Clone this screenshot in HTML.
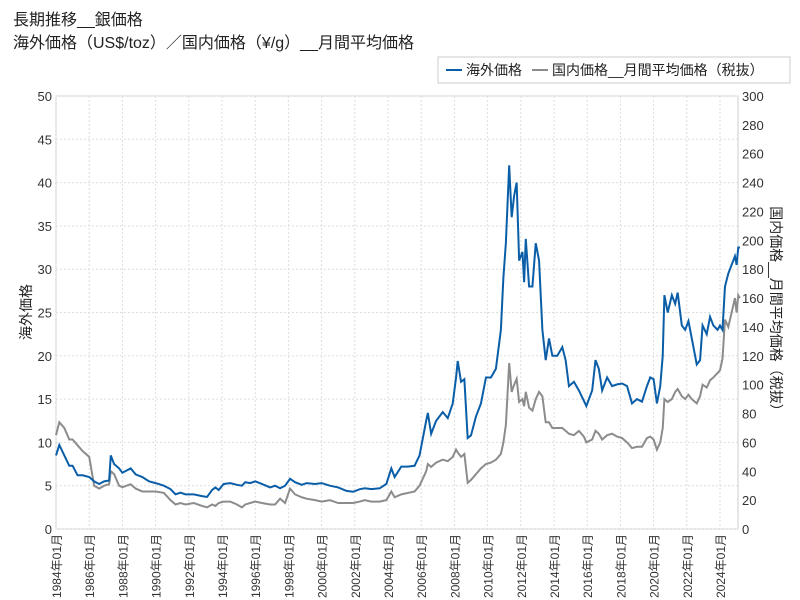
<!DOCTYPE html>
<html><head><meta charset="utf-8"><style>
body{margin:0;background:#fff;font-family:"Liberation Sans","Noto Sans CJK JP",sans-serif;}
#wrap{position:relative;width:800px;height:600px;overflow:hidden}
.t{position:absolute;left:13px;font-size:16px;color:#222}
</style></head><body><div id="wrap">
<div class="t" style="top:6px">長期推移__銀価格</div>
<div class="t" style="top:29px">海外価格（US$/toz）／国内価格（¥/g）__月間平均価格</div>
<svg id="svg" width="800" height="600" style="position:absolute;left:0;top:0"></svg>
</div>
<script>
const years=[1984.0,1984.2,1984.5,1984.8,1985.0,1985.3,1985.6,1986.0,1986.3,1986.6,1986.9,1987.2,1987.3,1987.5,1987.8,1988.0,1988.5,1988.8,1989.2,1989.6,1990.0,1990.5,1990.9,1991.2,1991.5,1991.8,1992.3,1992.8,1993.1,1993.4,1993.6,1993.8,1994.1,1994.5,1994.9,1995.2,1995.4,1995.7,1996.0,1996.4,1996.9,1997.2,1997.5,1997.8,1998.1,1998.4,1998.8,1999.1,1999.6,2000.0,2000.5,2001.0,2001.5,2001.9,2002.3,2002.6,2003.0,2003.5,2003.9,2004.2,2004.4,2004.8,2005.2,2005.6,2005.9,2006.3,2006.4,2006.6,2006.9,2007.3,2007.6,2007.9,2008.1,2008.2,2008.4,2008.6,2008.8,2009.0,2009.3,2009.6,2009.9,2010.2,2010.5,2010.8,2010.95,2011.1,2011.3,2011.45,2011.6,2011.75,2011.9,2012.1,2012.2,2012.3,2012.5,2012.7,2012.9,2013.1,2013.3,2013.5,2013.7,2013.9,2014.2,2014.5,2014.7,2014.9,2015.2,2015.5,2015.8,2015.95,2016.3,2016.5,2016.7,2016.9,2017.2,2017.5,2017.8,2018.1,2018.4,2018.7,2019.0,2019.3,2019.6,2019.8,2020.0,2020.2,2020.4,2020.55,2020.65,2020.85,2021.1,2021.3,2021.45,2021.7,2021.9,2022.1,2022.3,2022.6,2022.8,2022.95,2023.2,2023.4,2023.6,2023.85,2024.0,2024.15,2024.3,2024.5,2024.7,2024.9,2025.0,2025.1,2025.2];
const overseas=[8.5,9.7,8.5,7.3,7.3,6.2,6.2,6.0,5.5,5.2,5.5,5.6,8.5,7.5,7.0,6.5,7.0,6.3,6.0,5.5,5.3,5.0,4.6,4.0,4.2,4.0,4.0,3.8,3.7,4.5,4.8,4.5,5.2,5.3,5.1,5.0,5.4,5.3,5.5,5.2,4.8,5.0,4.7,5.0,5.8,5.4,5.1,5.3,5.2,5.3,5.0,4.8,4.4,4.3,4.6,4.7,4.6,4.7,5.2,7.0,6.0,7.2,7.2,7.3,8.5,12.5,13.4,11.0,12.5,13.5,12.8,14.5,17.5,19.4,17.0,17.3,10.5,10.8,13.0,14.5,17.5,17.5,18.5,23,29,33,42,36,38.5,40,31,32,28.5,33.5,28,28,33,31,23,19.5,22,20,20,21,19.5,16.5,17,16,14.8,14.2,16,19.5,18.5,16,17.5,16.5,16.7,16.8,16.5,14.5,15,14.7,16.5,17.5,17.3,14.5,16.5,20,27,25,27,26,27.3,23.5,23,24,22,19,19.5,23.5,22.5,24.5,23.5,23,23.5,23,28,29.5,30.5,31.5,30.5,32.5,32.5];
const domestic=[65,74,70,62,62,58,54,50,30,28,30,31,40,38,30,29,31,28,26,26,26,25,20,17,18,17,18,16,15,17,16,18,19,19,17,15,17,18,19,18,17,17,21,18,28,24,22,21,20,19,20,18,18,18,19,20,19,19,20,26,22,24,25,26,30,40,45,43,46,48,47,50,55,53,50,52,32,34,38,42,45,46,48,52,60,72,115,95,100,104,88,90,85,95,84,82,90,95,92,74,74,70,70,70,68,66,65,68,64,60,62,68,66,62,65,66,64,63,60,56,57,57,63,64,62,55,60,70,90,88,90,95,97,92,90,93,90,87,92,100,98,103,105,108,110,118,145,140,150,160,150,162,160];
const leftTicks=[0,5,10,15,20,25,30,35,40,45,50];
const rightTicks=[0,20,40,60,80,100,120,140,160,180,200,220,240,260,280,300];
const xTickYears=[1984,1986,1988,1990,1992,1994,1996,1998,2000,2002,2004,2006,2008,2010,2012,2014,2016,2018,2020,2022,2024];
const X0=56,X1=738,Y0=529,Y1=96;
const xs=y=>X0+(y-1984)*16.6;
const yl=v=>Y0-(v/50)*(Y0-Y1);
const yr=v=>Y0-(v/300)*(Y0-Y1);
const svg=document.getElementById('svg');const NS='http://www.w3.org/2000/svg';
function mk(t,a){const e=document.createElementNS(NS,t);for(const k in a)e.setAttribute(k,a[k]);svg.appendChild(e);return e;}
const frame=mk('rect',{x:X0,y:Y1,width:X1-X0,height:Y0-Y1,fill:'none',stroke:'#ccc'});


leftTicks.forEach(v=>{const y=yl(v);
 const g=mk('line',{x1:X0,x2:X1,y1:y,y2:y,stroke:'#ddd','stroke-dasharray':'2,2'});
 
 
 const t=mk('text',{x:X0-4,y:y+5,'text-anchor':'end','font-size':13,fill:'#333'});t.textContent=v;
 
 });
rightTicks.forEach(v=>{const y=yr(v);
 const t=mk('text',{x:X1+4,y:y+5,'font-size':13,fill:'#333'});t.textContent=v;
 
 });
xTickYears.forEach(yv=>{const x=xs(yv);
 const g=mk('line',{x1:x,x2:x,y1:Y1,y2:Y0,stroke:'#ddd','stroke-dasharray':'2,2'});
 
 
 const t=mk('text',{x:0,y:0,'text-anchor':'end','font-size':12,fill:'#333',transform:`translate(${x+5},${Y0+5}) rotate(-90)`});t.textContent=yv+'年01月';
 
 });
const pd=mk('polyline',{points:years.map((y,i)=>xs(y)+','+yr(domestic[i])).join(' '),fill:'none',stroke:'#8c8c8c','stroke-width':2});


const po=mk('polyline',{points:years.map((y,i)=>xs(y)+','+yl(overseas[i])).join(' '),fill:'none',stroke:'#0a5ea8','stroke-width':2});


const lt=mk('text',{x:0,y:0,'font-size':14,fill:'#222','text-anchor':'middle',transform:'translate(31,312) rotate(-90)'});lt.textContent='海外価格';


const rt=mk('text',{x:0,y:0,'font-size':14,fill:'#222','text-anchor':'middle',transform:'translate(771,312) rotate(90)'});rt.textContent='国内価格__月間平均価格（税抜）';


const lb=mk('rect',{x:438,y:57,width:352,height:26,fill:'#fff',stroke:'#ccc'});


const l1=mk('line',{x1:446,x2:462,y1:70,y2:70,stroke:'#0a5ea8','stroke-width':2});


const t1=mk('text',{x:466,y:75,'font-size':14,fill:'#222'});t1.textContent='海外価格';


const l2=mk('line',{x1:532,x2:548,y1:70,y2:70,stroke:'#8c8c8c','stroke-width':2});


const t2=mk('text',{x:552,y:75,'font-size':14,fill:'#222'});t2.textContent='国内価格__月間平均価格（税抜）';


</script></body></html>
